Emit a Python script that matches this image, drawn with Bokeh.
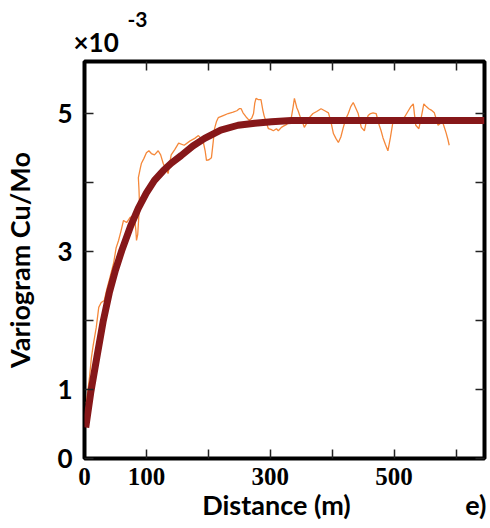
from bokeh.plotting import figure
from bokeh.models import Range1d, FixedTicker, LinearAxis, Title
from bokeh.embed import file_html
from bokeh.resources import INLINE

# ---- data (variogram values in units of 1e-3) ----
model_x = [2, 10, 20, 30, 40, 50, 60, 75, 87, 100, 113, 127, 140, 156, 175, 194,
           220, 248, 275, 302, 334, 400, 500, 646]
model_y = [0.45, 0.95, 1.47, 1.98, 2.40, 2.73, 3.01, 3.38, 3.63, 3.85, 4.03, 4.17,
           4.28, 4.39, 4.53, 4.64, 4.76, 4.83, 4.86, 4.88, 4.90, 4.90, 4.90, 4.90]

exp_x = [3, 5, 8, 11, 14, 19, 23, 27, 32, 36, 41, 47, 51, 55, 59, 63, 68, 74, 81, 83,
         84, 86, 88, 89, 88, 87, 90, 92, 96, 100, 104, 108, 113, 119, 123, 127, 131,
         135, 138, 140, 146, 152, 161, 170, 178, 184, 188, 192, 195, 197, 201, 205,
         208, 210, 213, 216, 224, 232, 240, 246, 250, 253, 256, 261, 266, 270, 273,
         275, 277, 281, 285, 288, 290, 294, 297, 301, 305, 310, 313, 318, 322, 326,
         330, 334, 337, 339, 341, 343, 345, 348, 350, 353, 355, 359, 363, 369, 375,
         382, 388, 394, 398, 402, 406, 410, 414, 418, 422, 426, 430, 434, 438, 442,
         447, 452, 455, 458, 462, 466, 471, 476, 479, 482, 486, 490, 494, 498, 502,
         506, 511, 517, 523, 527, 531, 533, 535, 540, 544, 548, 552, 556, 560, 565,
         568, 571, 575, 579, 584, 587, 589]
exp_y = [0.80, 0.95, 1.17, 1.45, 1.64, 1.90, 2.19, 2.26, 2.29, 2.45, 2.62, 2.83, 3.05,
         3.16, 3.30, 3.45, 3.42, 3.50, 3.48, 3.30, 3.16, 3.25, 3.55, 3.64, 3.90, 4.07,
         4.20, 4.28, 4.35, 4.43, 4.46, 4.42, 4.40, 4.46, 4.40, 4.28, 4.20, 4.13, 4.30,
         4.40, 4.48, 4.57, 4.54, 4.60, 4.64, 4.68, 4.64, 4.58, 4.45, 4.32, 4.33, 4.36,
         4.60, 4.78, 4.88, 4.94, 4.97, 5.00, 5.02, 5.04, 5.07, 5.07, 5.01, 4.95, 4.90,
         4.93, 5.00, 5.15, 5.22, 5.20, 5.20, 5.05, 4.97, 4.86, 4.78, 4.77, 4.75, 4.78,
         4.75, 4.80, 4.82, 4.84, 4.87, 4.94, 5.10, 5.22, 5.15, 5.08, 5.04, 4.96, 4.93,
         4.85, 4.80, 4.86, 4.94, 5.00, 5.03, 5.07, 5.04, 5.01, 4.88, 4.71, 4.64, 4.58,
         4.66, 4.80, 4.92, 5.00, 5.10, 5.16, 5.08, 5.00, 4.80, 4.75, 4.88, 4.97, 5.00,
         5.01, 5.00, 4.83, 4.75, 4.65, 4.55, 4.46, 4.65, 4.87, 4.88, 4.86, 4.87, 4.95,
         5.04, 5.10, 5.14, 4.98, 4.83, 4.78, 4.95, 5.14, 5.10, 5.07, 5.05, 5.01, 4.92,
         4.83, 4.86, 4.86, 4.72, 4.62, 4.54]

x_ticks = [100, 200, 300, 400, 500, 600]
y_ticks = [0, 1, 2, 3, 4, 5]
x_label_ticks = [0, 100, 300, 500]
x_tick_labels = {0: "0", 100: "100", 300: "300", 500: "500"}
y_tick_labels = {0: "0", 1: "1", 2: "", 3: "3", 4: "", 5: "5"}
x_title = "Distance (m)"
panel_tag = "e)"

# ---- layout / style ----
W, H = 490, 528
FL, FB = 84, 458          # frame left / bottom in page pixels
p = figure(width=W, height=H, output_backend="svg", toolbar_location=None,
           x_range=Range1d(0, 646), y_range=Range1d(0, 5.754),
           min_border_left=FL, min_border_right=6, min_border_top=61,
           min_border_bottom=H - FB, x_axis_location=None, y_axis_location=None)
p.grid.visible = False
p.outline_line_color = "black"
p.outline_line_width = 4
p.background_fill_color = "white"
p.border_fill_color = "white"

def mk_axis(ticks, labels=None, show_ticks=True):
    ax = LinearAxis(ticker=FixedTicker(ticks=ticks))
    ax.axis_line_color = None
    ax.major_tick_in = 9 if show_ticks else 0
    ax.major_tick_out = 0
    ax.major_tick_line_width = 1.5
    ax.major_tick_line_color = "#222222" if show_ticks else None
    ax.minor_tick_line_color = None
    if labels is None:
        ax.major_label_text_color = None
        ax.major_label_text_font_size = "1px"
        ax.major_label_standoff = 0
    else:
        ax.major_label_overrides = labels
        ax.major_label_text_color = "black"
        ax.axis_label_text_color = "black"
    return ax

# bottom: tick marks, then numeric labels, then title row (title + panel tag)
p.add_layout(mk_axis(x_ticks), "below")

xb = mk_axis(x_label_ticks, x_tick_labels, show_ticks=False)
xb.major_label_text_font = "Liberation Serif"
xb.major_label_text_font_style = "bold"
xb.major_label_text_font_size = "25px"
xb.major_label_standoff = 9
p.add_layout(xb, "below")

row_pos = {310: x_title, 632: panel_tag}
xt = mk_axis(list(row_pos.keys()), row_pos, show_ticks=False)
xt.major_label_text_font = "Lato"
xt.major_label_text_font_style = "bold"
xt.major_label_text_font_size = "27px"
xt.major_label_standoff = 0
p.add_layout(xt, "below")

yl = mk_axis(y_ticks, y_tick_labels)
yl.major_label_text_font = "Lato"
yl.major_label_text_font_style = "bold"
yl.major_label_text_font_size = "26px"
yl.major_label_standoff = 12
yl.axis_label = "Variogram Cu/Mo"
yl.axis_label_text_font = "Lato"
yl.axis_label_text_font_style = "bold"
yl.axis_label_text_font_size = "27px"
yl.axis_label_standoff = 18
p.add_layout(yl, "left")

p.add_layout(mk_axis(x_ticks), "above")
p.add_layout(mk_axis(y_ticks), "right")

p.line(exp_x, exp_y, line_color="#F5883A", line_width=1.3)
p.line(model_x, model_y, line_color="#861719", line_width=7)

# scale factor text above the frame
p.add_layout(Title(text="×10", align="left", offset=-11, standoff=7,
                   text_font="Lato", text_font_style="bold", text_font_size="26px",
                   text_color="black"), "above")
p.add_layout(Title(text="-3", align="left", offset=43, standoff=-13,
                   text_font="Lato", text_font_style="bold", text_font_size="21px",
                   text_color="black"), "above")

open("out.html", "w").write(file_html(p, INLINE))
